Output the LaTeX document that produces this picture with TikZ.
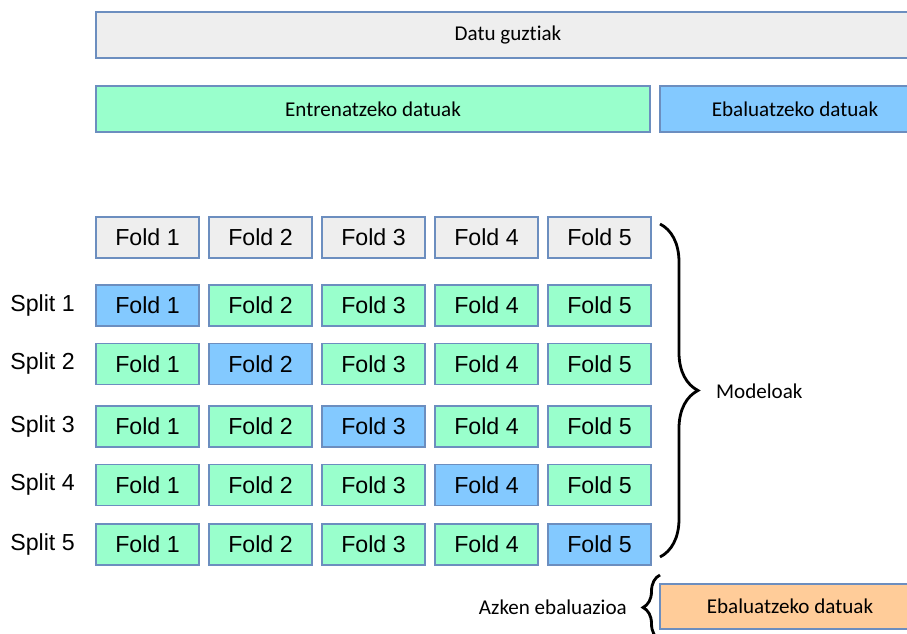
\documentclass[tikz,border=0pt]{standalone}
\usepackage{fontspec}
\setmainfont{Liberation Sans}
\newfontfamily\calibri[Ligatures=NoCommon]{Carlito}
\usetikzlibrary{decorations.pathreplacing}

\definecolor{allgrey}{HTML}{EEEEEE}
\definecolor{trainmint}{HTML}{99FFCC}
\definecolor{evalblue}{HTML}{83C9FF}
\definecolor{testorange}{HTML}{FFCC99}
\definecolor{boxedge}{HTML}{6C8EBF}

\begin{document}
\begin{tikzpicture}[x=0.02cm,y=-0.02cm,
        bar/.style={draw=boxedge,line width=0.8pt,minimum height=0.92cm,
                inner sep=0pt,font=\calibri\fontsize{12}{14}\selectfont},
        foldbox/.style={draw=boxedge,line width=0.8pt,minimum width=2.06cm,
                minimum height=0.82cm,inner sep=0pt,font=\fontsize{13.2}{15}\selectfont},
        curly/.style={decorate,decoration={brace,amplitude=#1},line width=1.6pt}]

    \useasboundingbox (0,0) rectangle (907,634);
    \clip (0,0) rectangle (907,634);

    % data split bars
    \node[bar,fill=allgrey,minimum width=16.48cm] (all) at (508,35) {Datu guztiak};
    \node[bar,fill=trainmint,minimum width=11.08cm] (train) at (373,109) {Entrenatzeko datuak};
    \node[bar,fill=evalblue,minimum width=5.4cm] (test) at (795,109) {Ebaluatzeko datuak};

    % header row of folds
    \foreach \c in {1,...,5}
        \node[foldbox,fill=allgrey] (h\c) at (147.5+113*\c-113,237.5) {Fold \c};

    % one row per split, the held-out fold in blue
    \foreach \r/\y in {1/305.5,2/364,3/426.5,4/485,5/544.5} {
        \node[anchor=east,font=\fontsize{13.2}{15}\selectfont] (split\r) at (81,\y) {Split \r};
        \foreach \c in {1,...,5} {
            \ifnum\c=\r \def\fc{evalblue}\else\def\fc{trainmint}\fi
            \node[foldbox,fill=\fc] (s\r f\c) at (147.5+113*\c-113,\y) {Fold \c};
        }
    }

    \coordinate (mtop) at (660,224);
    \coordinate (mbot) at (660,557);
    \draw[curly=0.76cm] (mtop) -- (mbot);
    \node[anchor=west,font=\calibri\fontsize{12}{14}\selectfont] (models) at (710,391) {Modeloak};

    % final evaluation
    \node[bar,fill=testorange,minimum width=5.2cm,minimum height=0.9cm] (final) at (790,606.5) {Ebaluatzeko datuak};
    \coordinate (ftop) at (660,575);
    \coordinate (fbot) at (660,640);
    \draw[curly=0.34cm] (fbot) -- (ftop);
    \node[anchor=east,font=\calibri\fontsize{12}{14}\selectfont] (lastlabel) at (633,607) {Azken ebaluazioa};
\end{tikzpicture}
\end{document}
